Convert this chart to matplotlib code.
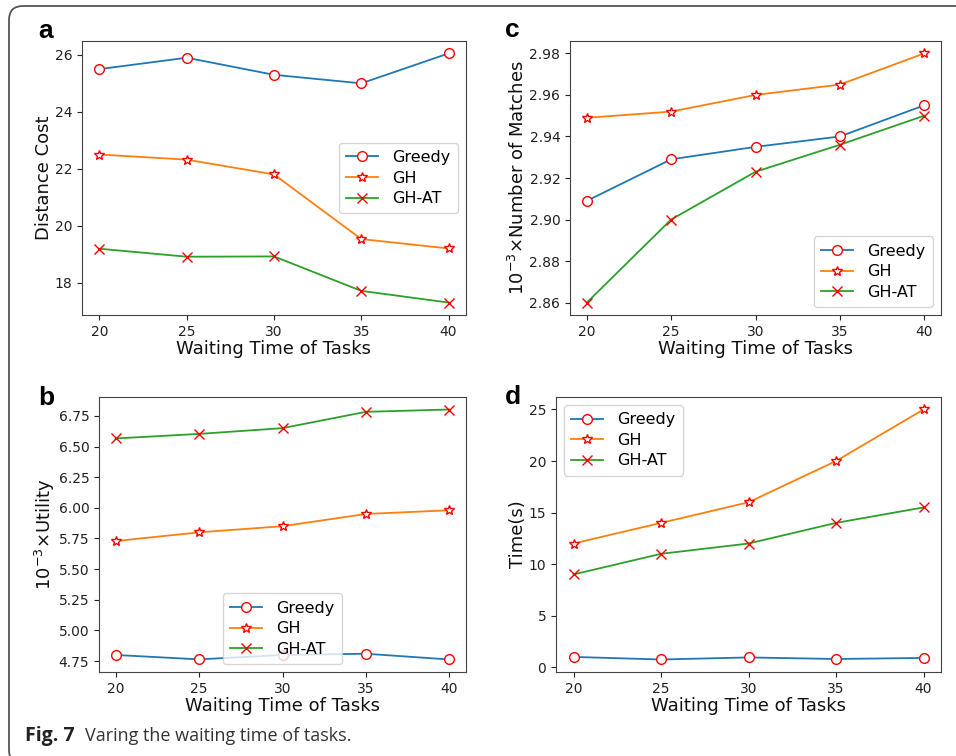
import matplotlib
matplotlib.use("Agg")
import matplotlib.pyplot as plt
import matplotlib.ticker as mticker
from matplotlib.patches import FancyBboxPatch
from matplotlib.transforms import IdentityTransform

plt.rcParams['font.family'] = ['DejaVu Sans']

# ---------------- data ----------------
waiting_time = [20, 25, 30, 35, 40]
series_names = ["Greedy", "GH", "GH-AT"]

distance_greedy = [25.5, 25.9, 25.3, 25.0, 26.05]
distance_gh = [22.5, 22.32, 21.8, 19.53, 19.2]
distance_ghat = [19.19, 18.91, 18.92, 17.71, 17.3]

matches_greedy = [2.909, 2.929, 2.935, 2.940, 2.955]
matches_gh = [2.949, 2.952, 2.960, 2.965, 2.980]
matches_ghat = [2.860, 2.900, 2.923, 2.936, 2.950]

utility_greedy = [4.80, 4.764, 4.80, 4.81, 4.763]
utility_gh = [5.729, 5.80, 5.85, 5.95, 5.98]
utility_ghat = [6.566, 6.603, 6.65, 6.783, 6.802]

time_greedy = [1.0, 0.75, 0.95, 0.8, 0.9]
time_gh = [12, 14, 16, 20, 25]
time_ghat = [9, 11, 12, 14, 15.5]

W, H = 956, 756
fig = plt.figure(figsize=(W / 100, H / 100), dpi=100)
fig.patch.set_facecolor("white")

def px_axes(l, t, r, b):
    return fig.add_axes([l / W, 1 - b / H, (r - l) / W, (b - t) / H])

colors = ["#1f77b4", "#ff7f0e", "#2ca02c"]
markers = ["o", "*", "x"]
msizes = [7, 7, 7]

def draw(ax, ys, ylabel, loc, yticks):
    for y, c, m, ms, name in zip(ys, colors, markers, msizes, series_names):
        if m == "x":
            ax.plot(waiting_time, y, color=c, marker=m, markersize=ms,
                    markeredgecolor="red", markeredgewidth=1.0, label=name, lw=1.3)
        else:
            ax.plot(waiting_time, y, color=c, marker=m, markersize=ms,
                    markerfacecolor="white", markeredgecolor="red",
                    markeredgewidth=1.0, label=name, lw=1.3)
    ax.set_xticks(waiting_time)
    ax.set_yticks(yticks)
    ax.tick_params(labelsize=10, colors="#222222")
    ax.set_xlabel("Waiting Time of Tasks", fontsize=13, labelpad=1, color="#111111")
    ax.set_ylabel(ylabel, fontsize=13, labelpad=1, color="#111111")
    for s in ax.spines.values():
        s.set_color("#444444")
    ax.legend(loc=loc, fontsize=11.5, handlelength=2.0, borderpad=0.45,
              labelspacing=0.35, handletextpad=0.9)

ax_a = px_axes(82, 41, 466, 315)
draw(ax_a, [distance_greedy, distance_gh, distance_ghat], "Distance Cost", "center right",
     [18, 20, 22, 24, 26])

ax_c = px_axes(570, 41, 941, 315)
draw(ax_c, [matches_greedy, matches_gh, matches_ghat], r"$10^{-3}$×Number of Matches",
     "lower right", [2.86, 2.88, 2.90, 2.92, 2.94, 2.96, 2.98])
ax_c.yaxis.set_major_formatter(mticker.FormatStrFormatter("%.2f"))

ax_b = px_axes(99, 397, 466, 672)
draw(ax_b, [utility_greedy, utility_gh, utility_ghat], r"$10^{-3}$×Utility",
     "lower center", [4.75, 5.0, 5.25, 5.5, 5.75, 6.0, 6.25, 6.5, 6.75])
ax_b.yaxis.set_major_formatter(mticker.FormatStrFormatter("%.2f"))

ax_d = px_axes(556, 397, 941, 672)
draw(ax_d, [time_greedy, time_gh, time_ghat], "Time(s)", "upper left", [0, 5, 10, 15, 20, 25])

# panel labels
for lab, x, y in [("a", 38, 38), ("c", 505, 37), ("b", 38, 405), ("d", 505, 404)]:
    fig.text(x / W, 1 - y / H, lab, fontsize=19, fontweight="bold",
             family="Liberation Sans", ha="left", va="baseline")

# caption
fig.text(25 / W, 1 - 741 / H, "Fig. 7", fontsize=14, fontweight="bold",
         family="Open Sans", ha="left", va="baseline", color="#222222")
fig.text(85 / W, 1 - 741 / H, "Varing the waiting time of tasks.", fontsize=13,
         family="Open Sans", ha="left", va="baseline", color="#333333")

# rounded border (display pixel coords, origin bottom-left)
border = FancyBboxPatch((9, -8), W + 50, H - 6 + 8,
                        boxstyle="round,pad=0,rounding_size=14",
                        transform=IdentityTransform(), fill=False,
                        edgecolor="#555555", lw=1.3, clip_on=False)
fig.patches.append(border)

fig.savefig("out.png", dpi=100)
